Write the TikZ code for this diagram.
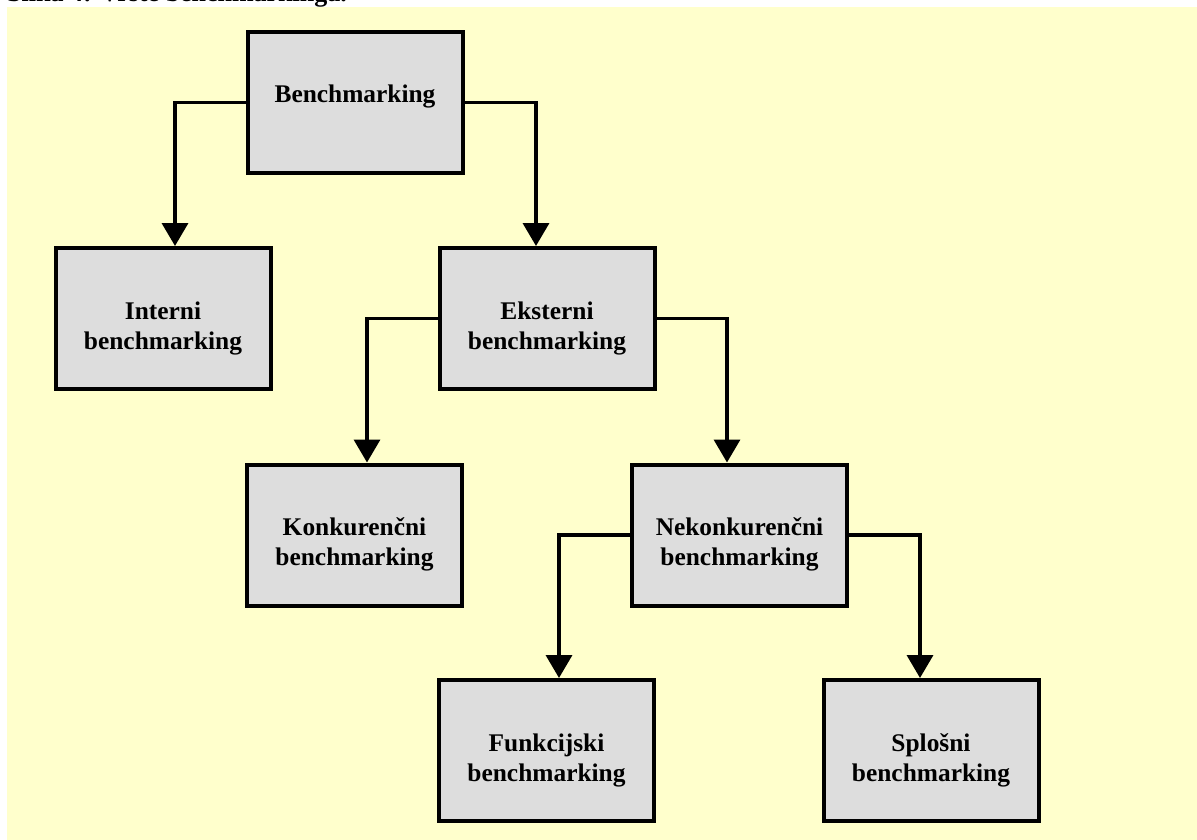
\documentclass[tikz,border=0pt]{standalone}
\usepackage{fontspec}
\setmainfont{Liberation Serif}
\usetikzlibrary{arrows.meta}
\definecolor{paper}{RGB}{255,255,204}
\definecolor{boxgray}{RGB}{221,221,221}
% box content: fixed-size frame, text block starting near the top
\newcommand\boxtext[1]{\parbox[c][141pt][t]{215pt}{\centering\vspace*{51pt}\rule{0pt}{20pt}#1\par}}
\begin{document}
\begin{tikzpicture}[x=1pt,y=-1pt,
  box/.style={draw=black, line width=4pt, fill=boxgray, inner sep=0pt, outer sep=2pt,
              font=\fontsize{25.4}{30}\selectfont\bfseries},
  link/.style={line width=3.6pt, -{Triangle[width=26pt,length=23pt]}}]
\useasboundingbox (0,0) rectangle (1197,840);
\clip (0,0) rectangle (1197,840);
\fill[white] (0,0) rectangle (1197,840);
\fill[paper] (7,7) rectangle (1197,840);
\node[anchor=base west, inner sep=0pt, font=\fontsize{26}{30}\selectfont\bfseries] (caption) at (7,1.5) {Slika 4: Vrste benchmarkinga.};

% hierarchy of benchmarking types
\node[box] (bm) at (355,102.5) {\boxtext{Benchmarking}};
\node[box] (in) at (163,318.5) {\boxtext{Interni\\benchmarking}};
\node[box] (ek) at (547,318.5) {\boxtext{Eksterni\\benchmarking}};
\node[box] (ko) at (354.5,535) {\boxtext{Konkurenčni\\benchmarking}};
\node[box] (ne) at (739.5,535) {\boxtext{Nekonkurenčni\\benchmarking}};
\node[box] (fu) at (546.5,750.5) {\boxtext{Funkcijski\\benchmarking}};
\node[box] (sp) at (931,750.5) {\boxtext{Splošni\\benchmarking}};

% elbow connectors
\draw[link] (bm.west) -| ([xshift=12pt]in.north);
\draw[link] (bm.east) -| ([xshift=-11pt]ek.north);
\draw[link] (ek.west) -| ([xshift=12.5pt]ko.north);
\draw[link] (ek.east) -| ([xshift=-12.5pt]ne.north);
\draw[link] (ne.west) -| ([xshift=12.5pt]fu.north);
\draw[link] (ne.east) -| ([xshift=-11pt]sp.north);
\end{tikzpicture}
\end{document}
